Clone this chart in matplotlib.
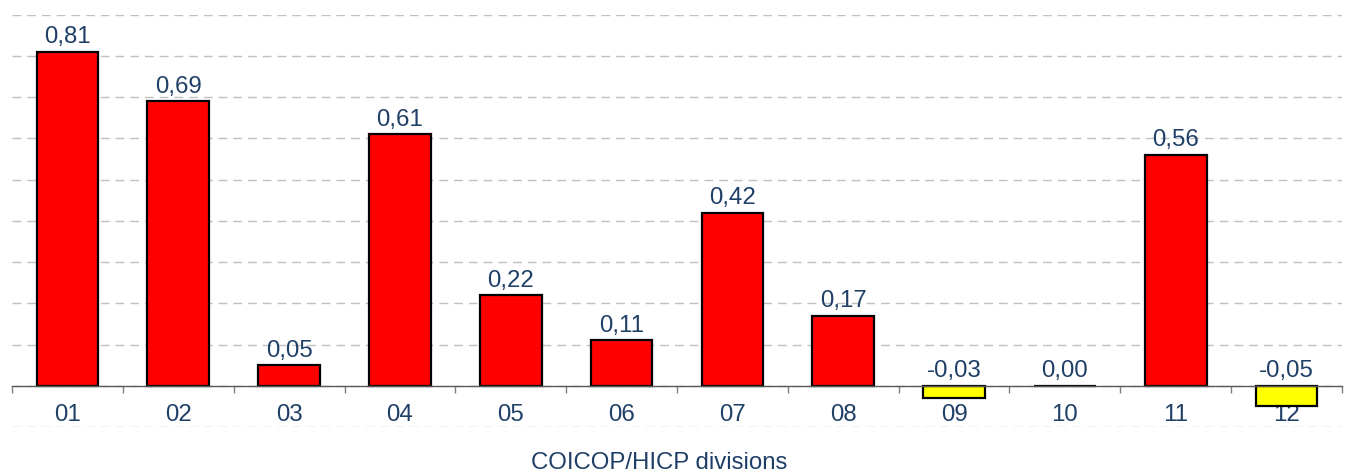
import numpy as np
import matplotlib
matplotlib.use("Agg")
import matplotlib.pyplot as plt

plt.rcParams['font.family'] = ['Liberation Sans', 'DejaVu Sans']

# contributions by COICOP division
divisions = ['01', '02', '03', '04', '05', '06', '07', '08', '09', '10', '11', '12']
values = [0.81, 0.69, 0.05, 0.61, 0.22, 0.11, 0.42, 0.17, -0.03, 0.00, 0.56, -0.05]

txt = '#1F3F66'
fs = 17.3
fig = plt.figure(figsize=(13.49, 4.73), dpi=100)
ax = fig.add_axes([12/1349, 1-427/473, 1330/1349, (427-14.7)/473])

x = np.arange(len(values))
colors = ['#FF0000' if v >= 0 else '#FFFF00' for v in values]
ax.bar(x, values, width=0.556, color=colors, edgecolor='black', linewidth=1.6, zorder=3)

for xi, v in zip(x, values):
    ax.annotate(('%.2f' % v).replace('.', ','), (xi, max(v, 0)),
                xytext=(0, 2.5), textcoords='offset points',
                ha='center', va='bottom', fontsize=fs, color=txt, zorder=4)

ax.set_xlim(-0.5, len(values) - 0.5)
ax.set_ylim(-0.1, 0.9)

# dashed grid
ax.set_yticks(np.round(np.arange(-0.1, 0.91, 0.1), 2))
ax.yaxis.grid(True, linestyle=(0, (6.3, 4.3)), color='#C0C0C0', linewidth=1.0, zorder=0)
ax.tick_params(axis='y', left=False, labelleft=False)

for s in ['top', 'right', 'left']:
    ax.spines[s].set_visible(False)
ax.spines['bottom'].set_position(('data', 0))
ax.spines['bottom'].set_color('#595959')
ax.spines['bottom'].set_linewidth(1.0)
ax.spines['bottom'].set_zorder(5)

ax.set_xticks(x)
ax.set_xticklabels(divisions)
ax.set_xticks(np.arange(-0.5, len(values)), minor=True)
ax.tick_params(axis='x', which='major', length=0, pad=13, labelsize=fs, labelcolor=txt)
ax.tick_params(axis='x', which='minor', length=5, width=1, color='#7F7F7F', direction='out')

fig.text(659/1349, 1-463/473, 'COICOP/HICP divisions', ha='center', va='center',
         fontsize=fs, color=txt)

fig.savefig('out.png', dpi=100)
